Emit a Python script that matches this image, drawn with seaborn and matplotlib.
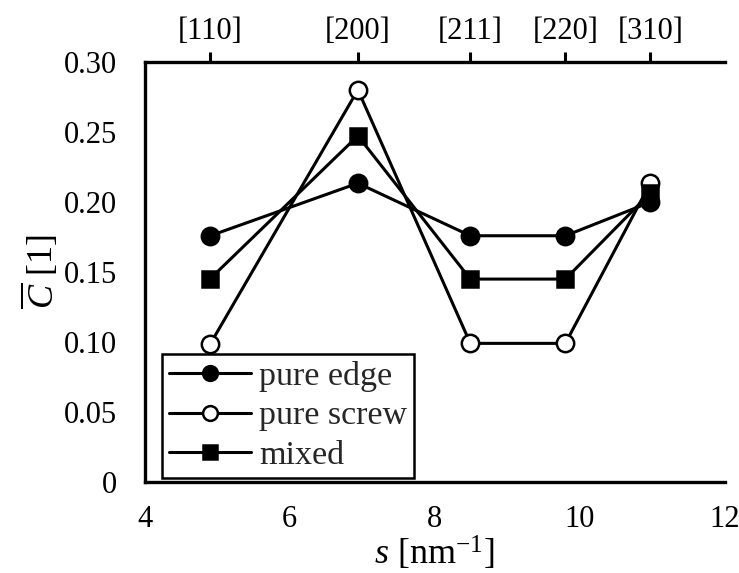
import matplotlib
matplotlib.use("Agg")
import matplotlib.pyplot as plt
import seaborn as sns
import pandas as pd

# Scattering vector magnitude of the reflections
s_values = [4.905, 6.94, 8.49, 9.80, 10.97]
reflections = ["[110]", "[200]", "[211]", "[220]", "[310]"]

# Average contrast factors per dislocation character
edge = [0.176, 0.2136, 0.176, 0.176, 0.200]
screw = [0.0986, 0.2804, 0.0990, 0.0990, 0.2135]
mixed = [0.1453, 0.2475, 0.1450, 0.1450, 0.2066]

x_ticks = [4, 6, 8, 10, 12]
y_ticks = [0, 0.05, 0.10, 0.15, 0.20, 0.25, 0.30]
y_ticklabels = ["0", "0.05", "0.10", "0.15", "0.20", "0.25", "0.30"]

sns.set_theme(style="white")
plt.rcParams["font.family"] = ["Liberation Serif", "DejaVu Serif"]
plt.rcParams["mathtext.fontset"] = "custom"
plt.rcParams["mathtext.rm"] = "Liberation Serif"
plt.rcParams["mathtext.it"] = "Liberation Serif:italic"

fig = plt.figure(figsize=(7.39, 5.73), dpi=100)
ax = fig.add_axes([0.1957, 0.1593, 0.7853, 0.7317])

df = pd.DataFrame({"s": s_values * 3,
                   "C": edge + screw + mixed,
                   "kind": ["pure edge"] * 5 + ["pure screw"] * 5 + ["mixed"] * 5})

styles = {
    "pure edge": dict(marker="o", markerfacecolor="black", markersize=12.5),
    "pure screw": dict(marker="o", markerfacecolor="white", markersize=12.5),
    "mixed": dict(marker="s", markerfacecolor="black", markersize=11.5),
}
for kind in ["pure edge", "pure screw", "mixed"]:
    sub = df[df["kind"] == kind]
    sns.lineplot(data=sub, x="s", y="C", ax=ax, color="black", linewidth=2.2,
                 markeredgecolor="black", markeredgewidth=1.8, label=kind,
                 clip_on=False, zorder=3, **styles[kind])

ax.set_xlim(4, 12)
ax.set_ylim(0, 0.30)
ax.set_xticks(x_ticks)
ax.set_yticks(y_ticks)
ax.set_yticklabels(y_ticklabels)

for side in ["left", "bottom", "top"]:
    ax.spines[side].set_color("black")
    ax.spines[side].set_linewidth(2.4)
ax.spines["right"].set_visible(False)

ax.tick_params(axis="both", which="major", direction="out", length=13, width=2.2,
               color="black", labelsize=22, labelcolor="black", pad=7)
ax.tick_params(axis="x", top=False, pad=4)

ax.set_xlabel(r"$s$ [nm$^{-1}$]", fontsize=26, color="black", labelpad=0)
ax.set_ylabel(r"$\overline{C}$ [1]", fontsize=26, color="black", labelpad=2)

top = ax.secondary_xaxis("top")
top.set_xticks(s_values)
top.set_xticklabels(reflections)
top.spines["top"].set_visible(False)
top.tick_params(direction="out", length=7, width=2.2, color="black",
                labelsize=22, labelcolor="black", pad=5)

leg = ax.legend(loc="lower left", bbox_to_anchor=(0.03, 0.009), borderaxespad=0,
                fontsize=24.5, frameon=True, fancybox=False, handlelength=2.4,
                handletextpad=0.25, labelspacing=0.26, borderpad=0.2,
                markerscale=0.85)
leg.get_frame().set_edgecolor("black")
leg.get_frame().set_linewidth(1.8)
leg.get_frame().set_alpha(1)

fig.savefig("out.png", dpi=100)
